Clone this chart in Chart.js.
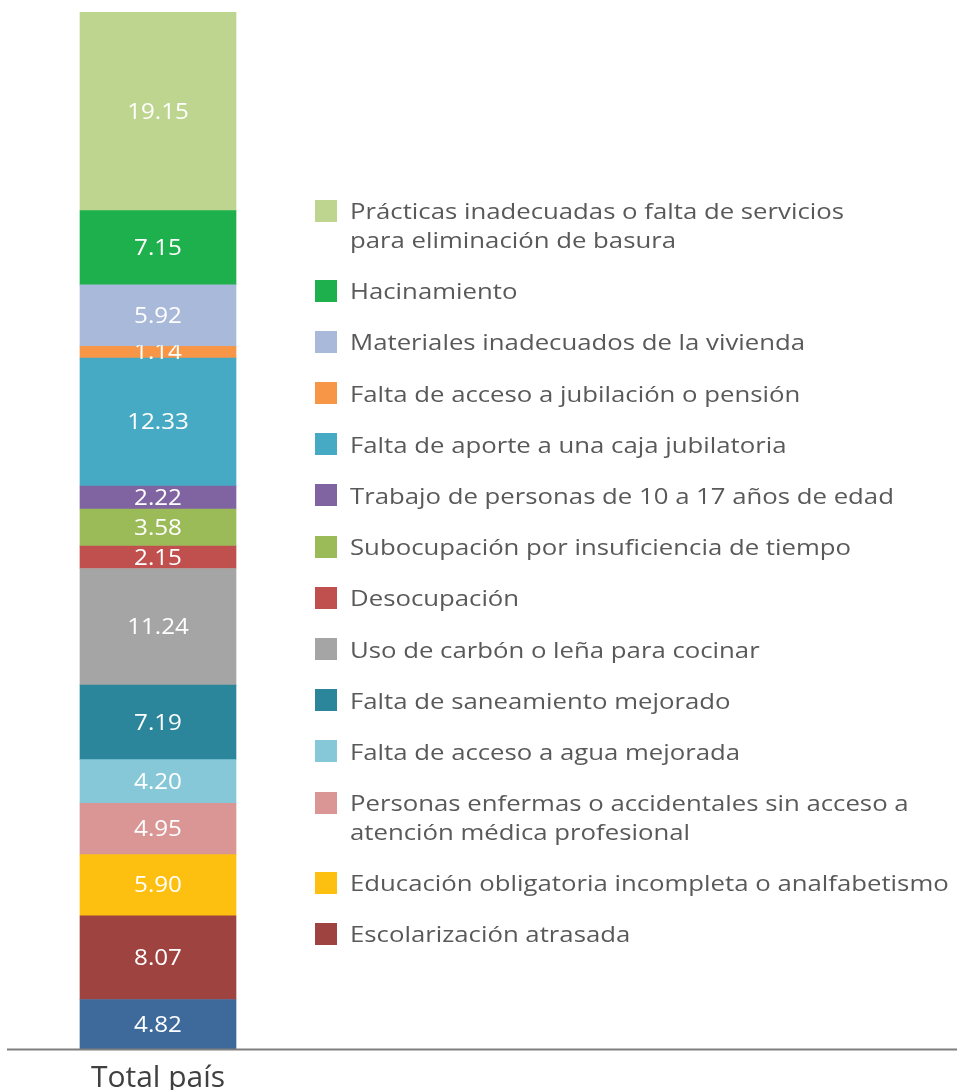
<!DOCTYPE html>
<html>
<head>
<meta charset="utf-8">
<script src="https://cdn.jsdelivr.net/npm/chart.js@4.4.1/dist/chart.umd.min.js"></script>
<style>
  html, body { margin: 0; padding: 0; background: #fff; }
  #wrap { position: relative; width: 957px; height: 1090px; overflow: hidden; }
  #chart { position: absolute; left: 0; top: 0; }
  #legend {
    position: absolute; left: 315px; top: 196px;
    font-family: "Open Sans", sans-serif; font-size: 22px; line-height: 29px;
    color: #595959; white-space: pre-line;
  }
  #legend .item { display: flex; align-items: flex-start; margin-bottom: 22.2px; }
  #legend .box { width: 22px; height: 22px; flex: none; margin-top: 3.5px; margin-right: 13px; }
  /* the source lettering is set a bit wide */
  #legend .txt { display: inline-block; transform: scaleX(1.17); transform-origin: 0 0; white-space: pre; }
</style>
</head>
<body>
<div id="wrap">
  <canvas id="chart" width="957" height="1090"></canvas>
  <div id="legend"></div>
</div>
<script>
// stacked from the bottom of the bar up
const categories = ['Total país'];
const seriesNames = [
    null,
    'Escolarización atrasada',
    'Educación obligatoria incompleta o analfabetismo',
    'Personas enfermas o accidentales sin acceso a\natención médica profesional',
    'Falta de acceso a agua mejorada',
    'Falta de saneamiento mejorado',
    'Uso de carbón o leña para cocinar',
    'Desocupación',
    'Subocupación por insuficiencia de tiempo',
    'Trabajo de personas de 10 a 17 años de edad',
    'Falta de aporte a una caja jubilatoria',
    'Falta de acceso a jubilación o pensión',
    'Materiales inadecuados de la vivienda',
    'Hacinamiento',
    'Prácticas inadecuadas o falta de servicios\npara eliminación de basura'
];
const values = [4.82, 8.07, 5.90, 4.95, 4.20, 7.19, 11.24, 2.15, 3.58, 2.22, 12.33, 1.14, 5.92, 7.15, 19.15];
const colors = ['#3D6A9B', '#9F4341', '#FDC010', '#D99694', '#86C8D8', '#2B869C', '#A5A5A5',
    '#C0504D', '#9BBB59', '#8064A2', '#46AAC5', '#F79646', '#A9B9D9', '#1FB04E', '#BDD58E'];

const total = values.reduce((a, b) => a + b, 0);

// white value in the middle of each segment, clipped to it
const segmentLabels = {
    id: 'segmentLabels',
    afterDatasetsDraw(chart) {
        const ctx = chart.ctx;
        ctx.save();
        ctx.font = '22px "Open Sans"';
        ctx.fillStyle = '#fff';
        ctx.textAlign = 'center';
        ctx.textBaseline = 'middle';
        chart.data.datasets.forEach((ds, i) => {
            chart.getDatasetMeta(i).data.forEach((bar, j) => {
                const top = Math.min(bar.y, bar.base);
                const h = Math.abs(bar.base - bar.y);
                ctx.save();
                ctx.beginPath();
                ctx.rect(bar.x - bar.width / 2, top - 1, bar.width, h + 2);
                ctx.clip();
                ctx.translate(bar.x, top + h / 2 + 1);
                ctx.scale(1.1, 1);
                ctx.fillText(ds.data[j].toFixed(2), 0, 0);
                ctx.restore();
            });
        });
        // base line runs under the legend too
        const y0 = chart.scales.y.getPixelForValue(0);
        ctx.strokeStyle = '#7f7f7f';
        ctx.lineWidth = 2;
        ctx.beginPath();
        ctx.moveTo(7, y0);
        ctx.lineTo(chart.width, y0);
        ctx.stroke();
        ctx.restore();
    }
};

const datasets = values.map((v, i) => ({
    label: seriesNames[i] || '',
    data: [v],
    backgroundColor: colors[i],
    borderWidth: 0,
    barThickness: 156
}));

new Chart(document.getElementById('chart'), {
    type: 'bar',
    data: { labels: categories, datasets: datasets },
    options: {
        responsive: false,
        animation: false,
        devicePixelRatio: 1,
        layout: { padding: { left: 8, right: 649, top: 12, bottom: 0 } },
        plugins: { legend: { display: false }, tooltip: { enabled: false } },
        scales: {
            x: {
                stacked: true,
                grid: { display: false, drawTicks: false },
                border: { display: false },
                ticks: { color: '#404040', font: { family: 'Open Sans', size: 30 }, padding: 11 },
                afterFit(scale) { scale.height = 40.5 }
            },
            y: { stacked: true, display: false, min: 0, max: total }
        }
    },
    plugins: [segmentLabels]
});

// legend, top to bottom like the bar; the bottom segment has no entry
const legend = document.getElementById('legend');
for (let i = values.length - 1; i >= 0; i--) {
    if (!seriesNames[i]) continue;
    const item = document.createElement('div');
    item.className = 'item';
    const box = document.createElement('span');
    box.className = 'box';
    box.style.background = colors[i];
    const txt = document.createElement('span');
    txt.className = 'txt';
    txt.textContent = seriesNames[i];
    item.appendChild(box);
    item.appendChild(txt);
    legend.appendChild(item);
}
</script>
</body>
</html>
